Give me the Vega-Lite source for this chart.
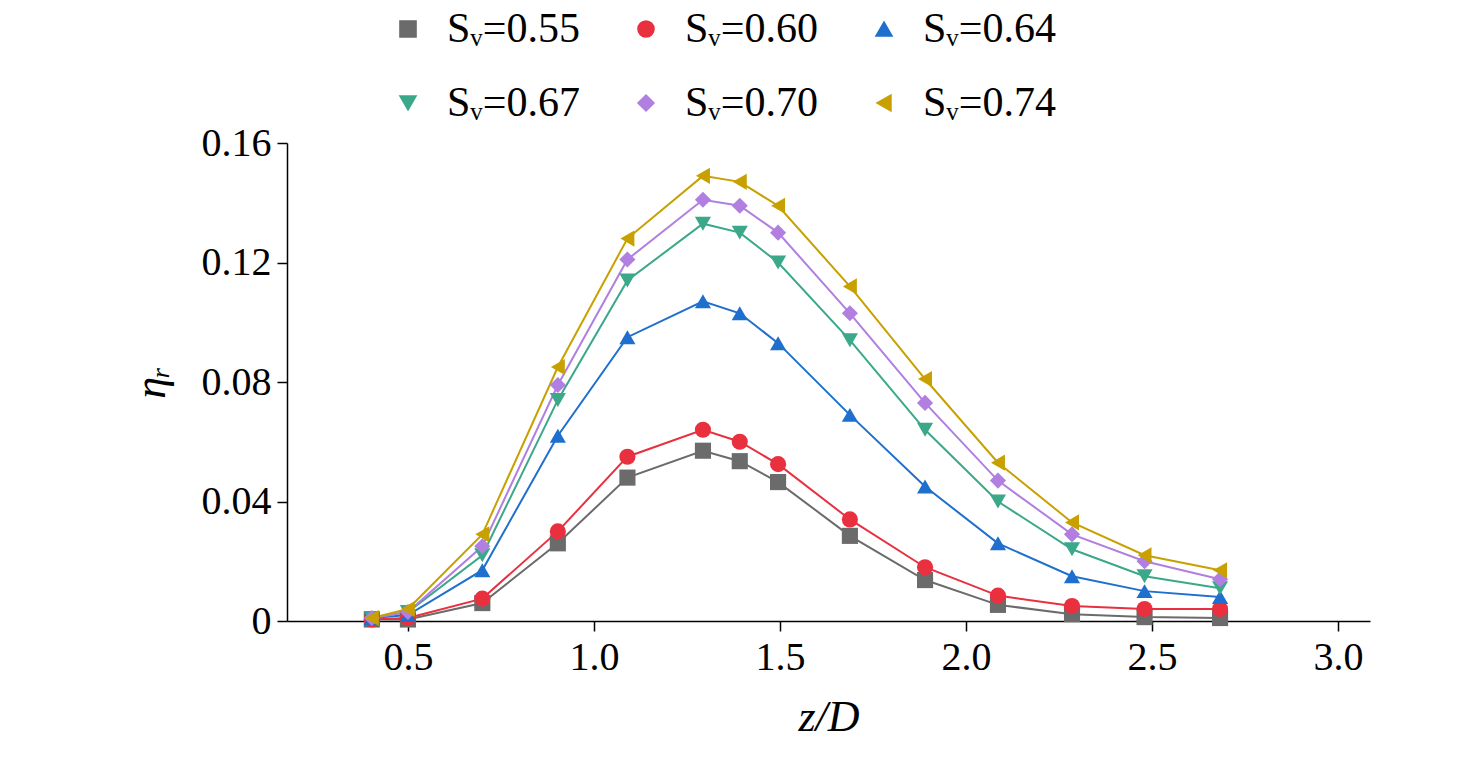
{
  "$schema": "https://vega.github.io/schema/vega-lite/v6.json",
  "width": 1083,
  "height": 478,
  "autosize": "none",
  "padding": {"left": 287, "top": 143, "right": 106, "bottom": 157},
  "background": "white",
  "data": {"values": [
    {"s":"Sᵥ=0.55","x":0.403,"y":0.0005},{"s":"Sᵥ=0.55","x":0.5,"y":0.0005},{"s":"Sᵥ=0.55","x":0.70,"y":0.006},{"s":"Sᵥ=0.55","x":0.903,"y":0.026},{"s":"Sᵥ=0.55","x":1.09,"y":0.048},{"s":"Sᵥ=0.55","x":1.293,"y":0.057},{"s":"Sᵥ=0.55","x":1.392,"y":0.0535},{"s":"Sᵥ=0.55","x":1.495,"y":0.0465},{"s":"Sᵥ=0.55","x":1.688,"y":0.0285},{"s":"Sᵥ=0.55","x":1.89,"y":0.0137},{"s":"Sᵥ=0.55","x":2.086,"y":0.0054},{"s":"Sᵥ=0.55","x":2.285,"y":0.0023},{"s":"Sᵥ=0.55","x":2.48,"y":0.0013},{"s":"Sᵥ=0.55","x":2.683,"y":0.001},
    {"s":"Sᵥ=0.60","x":0.403,"y":0.0005},{"s":"Sᵥ=0.60","x":0.5,"y":0.001},{"s":"Sᵥ=0.60","x":0.70,"y":0.0075},{"s":"Sᵥ=0.60","x":0.903,"y":0.030},{"s":"Sᵥ=0.60","x":1.09,"y":0.055},{"s":"Sᵥ=0.60","x":1.293,"y":0.064},{"s":"Sᵥ=0.60","x":1.392,"y":0.060},{"s":"Sᵥ=0.60","x":1.495,"y":0.0525},{"s":"Sᵥ=0.60","x":1.688,"y":0.034},{"s":"Sᵥ=0.60","x":1.89,"y":0.018},{"s":"Sᵥ=0.60","x":2.086,"y":0.0085},{"s":"Sᵥ=0.60","x":2.285,"y":0.005},{"s":"Sᵥ=0.60","x":2.48,"y":0.004},{"s":"Sᵥ=0.60","x":2.683,"y":0.004},
    {"s":"Sᵥ=0.64","x":0.403,"y":0.001},{"s":"Sᵥ=0.64","x":0.5,"y":0.002},{"s":"Sᵥ=0.64","x":0.70,"y":0.017},{"s":"Sᵥ=0.64","x":0.903,"y":0.062},{"s":"Sᵥ=0.64","x":1.09,"y":0.095},{"s":"Sᵥ=0.64","x":1.293,"y":0.107},{"s":"Sᵥ=0.64","x":1.392,"y":0.103},{"s":"Sᵥ=0.64","x":1.495,"y":0.093},{"s":"Sᵥ=0.64","x":1.688,"y":0.069},{"s":"Sᵥ=0.64","x":1.89,"y":0.045},{"s":"Sᵥ=0.64","x":2.086,"y":0.026},{"s":"Sᵥ=0.64","x":2.285,"y":0.015},{"s":"Sᵥ=0.64","x":2.48,"y":0.010},{"s":"Sᵥ=0.64","x":2.683,"y":0.008},
    {"s":"Sᵥ=0.67","x":0.403,"y":0.001},{"s":"Sᵥ=0.67","x":0.5,"y":0.003},{"s":"Sᵥ=0.67","x":0.70,"y":0.022},{"s":"Sᵥ=0.67","x":0.903,"y":0.074},{"s":"Sᵥ=0.67","x":1.09,"y":0.114},{"s":"Sᵥ=0.67","x":1.293,"y":0.133},{"s":"Sᵥ=0.67","x":1.392,"y":0.130},{"s":"Sᵥ=0.67","x":1.495,"y":0.120},{"s":"Sᵥ=0.67","x":1.688,"y":0.094},{"s":"Sᵥ=0.67","x":1.89,"y":0.064},{"s":"Sᵥ=0.67","x":2.086,"y":0.040},{"s":"Sᵥ=0.67","x":2.285,"y":0.024},{"s":"Sᵥ=0.67","x":2.48,"y":0.015},{"s":"Sᵥ=0.67","x":2.683,"y":0.011},
    {"s":"Sᵥ=0.70","x":0.403,"y":0.001},{"s":"Sᵥ=0.70","x":0.5,"y":0.003},{"s":"Sᵥ=0.70","x":0.70,"y":0.025},{"s":"Sᵥ=0.70","x":0.903,"y":0.079},{"s":"Sᵥ=0.70","x":1.09,"y":0.121},{"s":"Sᵥ=0.70","x":1.293,"y":0.141},{"s":"Sᵥ=0.70","x":1.392,"y":0.139},{"s":"Sᵥ=0.70","x":1.495,"y":0.130},{"s":"Sᵥ=0.70","x":1.688,"y":0.103},{"s":"Sᵥ=0.70","x":1.89,"y":0.073},{"s":"Sᵥ=0.70","x":2.086,"y":0.047},{"s":"Sᵥ=0.70","x":2.285,"y":0.029},{"s":"Sᵥ=0.70","x":2.48,"y":0.020},{"s":"Sᵥ=0.70","x":2.683,"y":0.014},
    {"s":"Sᵥ=0.74","x":0.403,"y":0.001},{"s":"Sᵥ=0.74","x":0.5,"y":0.004},{"s":"Sᵥ=0.74","x":0.70,"y":0.029},{"s":"Sᵥ=0.74","x":0.903,"y":0.085},{"s":"Sᵥ=0.74","x":1.09,"y":0.128},{"s":"Sᵥ=0.74","x":1.293,"y":0.149},{"s":"Sᵥ=0.74","x":1.392,"y":0.147},{"s":"Sᵥ=0.74","x":1.495,"y":0.139},{"s":"Sᵥ=0.74","x":1.688,"y":0.112},{"s":"Sᵥ=0.74","x":1.89,"y":0.081},{"s":"Sᵥ=0.74","x":2.086,"y":0.053},{"s":"Sᵥ=0.74","x":2.285,"y":0.033},{"s":"Sᵥ=0.74","x":2.48,"y":0.022},{"s":"Sᵥ=0.74","x":2.683,"y":0.017}
  ]},
  "encoding": {
    "x": {"field": "x", "type": "quantitative", "title": "z/D",
      "scale": {"domain": [0.175, 3.086], "nice": false, "zero": false},
      "axis": {"values": [0.5, 1.0, 1.5, 2.0, 2.5, 3.0], "format": ".1f", "titleFontStyle": "italic", "titlePadding": 18}},
    "y": {"field": "y", "type": "quantitative", "title": "ηᵣ",
      "scale": {"domain": [0, 0.16], "nice": false},
      "axis": {"values": [0, 0.04, 0.08, 0.12, 0.16], "labelExpr": "datum.value == 0 ? '0' : format(datum.value, '.2f')", "titlePadding": 28, "titleFontStyle": "italic"}},
    "color": {"field": "s", "type": "nominal", "title": null,
      "scale": {"domain": ["Sᵥ=0.55","Sᵥ=0.60","Sᵥ=0.64","Sᵥ=0.67","Sᵥ=0.70","Sᵥ=0.74"],
        "range": ["#6b6b6b","#e8303f","#1f6fce","#3aa889","#b07fe0","#c8a000"]}},
    "shape": {"field": "s", "type": "nominal", "title": null,
      "scale": {"domain": ["Sᵥ=0.55","Sᵥ=0.60","Sᵥ=0.64","Sᵥ=0.67","Sᵥ=0.70","Sᵥ=0.74"],
        "range": ["square","circle","triangle-up","triangle-down","diamond","triangle-left"]}}
  },
  "layer": [
    {"mark": {"type": "line", "strokeWidth": 2}, "encoding": {}},
    {"mark": {"type": "point", "filled": true, "size": 260, "opacity": 1}}
  ],
  "config": {
    "font": "Liberation Serif",
    "view": {"stroke": null},
    "axis": {"labelFontSize": 40, "titleFontSize": 44, "labelColor": "black", "titleColor": "black",
      "domainColor": "black", "tickColor": "black", "domainWidth": 1.5, "tickWidth": 1.5, "tickSize": 10,
      "grid": false, "titleFontWeight": "normal", "labelPadding": 6},
    "legend": {"orient": "none", "legendX": 100, "legendY": -135, "direction": "horizontal", "columns": 3,
      "labelFontSize": 42, "labelColor": "black", "symbolSize": 260,
      "columnPadding": 45, "rowPadding": 32, "labelLimit": 400, "labelOffset": 18}
  }
}
